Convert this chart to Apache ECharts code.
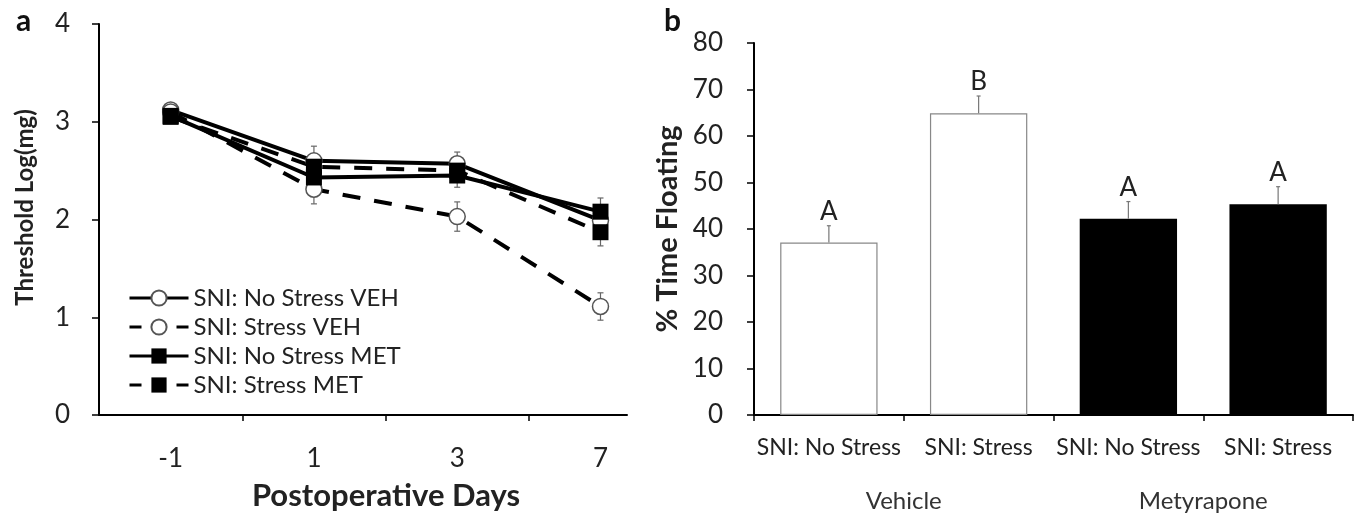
<!DOCTYPE html>
<html>
<head>
<meta charset="utf-8">
<script src="https://cdn.jsdelivr.net/npm/echarts@6/dist/echarts.min.js"></script>
<style>
  html, body { margin: 0; padding: 0; background: #fff; }
  #chart { width: 1360px; height: 516px; }
</style>
</head>
<body>
<div id="chart"></div>
<script>
// panel a: threshold log(mg) by postoperative day
const days = ['-1', '1', '3', '7']
const vehNoStress = [3.12, 2.60, 2.57, 1.99]
const vehStress = [3.10, 2.31, 2.03, 1.11]
const metNoStress = [3.06, 2.43, 2.45, 2.08]
const metStress = [3.05, 2.54, 2.50, 1.87]
const vehNoStressSem = [0.05, 0.15, 0.12, 0.12]
const vehStressSem = [0.05, 0.15, 0.15, 0.14]
const metNoStressSem = [0.05, 0.12, 0.12, 0.14]
const metStressSem = [0.05, 0.12, 0.12, 0.14]

// panel b: % time floating
const groups = ['SNI: No Stress', 'SNI: Stress', 'SNI: No Stress', 'SNI: Stress']
const treatments = ['Vehicle', 'Metyrapone']
const timeFloating = [37.1, 64.9, 42.2, 45.3]
const timeFloatingSem = [3.6, 3.7, 3.7, 3.8]
const letters = ['A', 'B', 'A', 'A']

const FONT = 'Lato, "Open Sans", sans-serif'
const TXT = '#222'

const chart = echarts.init(document.getElementById('chart'))

// 误差线 (上下)
function errRenderA (params, api) {
  const x = api.value(0)
  const y = api.value(1)
  const e = api.value(2)
  const hi = api.coord([x, y + e])
  const lo = api.coord([x, y - e])
  const st = { stroke: '#666', lineWidth: 1.2 }
  return {
    type: 'group',
    children: [
      { type: 'line', shape: { x1: hi[0], y1: hi[1], x2: lo[0], y2: lo[1] }, style: st },
      { type: 'line', shape: { x1: hi[0] - 3, y1: hi[1], x2: hi[0] + 3, y2: hi[1] }, style: st },
      { type: 'line', shape: { x1: lo[0] - 3, y1: lo[1], x2: lo[0] + 3, y2: lo[1] }, style: st }
    ]
  }
}

// 柱状图误差线 (只向上) + 字母
function errRenderB (params, api) {
  const x = api.value(0)
  const y = api.value(1)
  const e = api.value(2)
  const top = api.coord([x, y])
  const hi = api.coord([x, y + e])
  const st = { stroke: '#777', lineWidth: 1.2 }
  return {
    type: 'group',
    children: [
      { type: 'line', shape: { x1: top[0], y1: top[1], x2: hi[0], y2: hi[1] }, style: st },
      { type: 'line', shape: { x1: hi[0] - 2, y1: hi[1], x2: hi[0] + 2, y2: hi[1] }, style: st },
      {
        type: 'text',
        style: {
          text: letters[params.dataIndex],
          x: hi[0],
          y: hi[1] - 1,
          align: 'center',
          verticalAlign: 'bottom',
          fontSize: 26,
          fontFamily: FONT,
          fill: TXT
        }
      }
    ]
  }
}

function lineSeries (name, values, dashed, symbol) {
  return {
    name: name,
    type: 'line',
    xAxisIndex: 0,
    yAxisIndex: 0,
    data: values.map((v, i) => [i, v]),
    symbol: symbol,
    symbolSize: 16,
    showAllSymbol: true,
    lineStyle: { color: '#000', width: 4, type: dashed ? [18, 14] : 'solid' },
    itemStyle: symbol === 'circle'
      ? { color: '#fff', borderColor: '#555', borderWidth: 1.5 }
      : { color: '#000', borderColor: '#000', borderWidth: 0 },
    z: 3
  }
}

function errSeriesA (values, sems) {
  return {
    type: 'custom',
    xAxisIndex: 0,
    yAxisIndex: 0,
    renderItem: errRenderA,
    encode: { x: 0, y: 1 },
    data: values.map((v, i) => [i, v, sems[i]]),
    z: 2,
    silent: true
  }
}

const axisLineStyle = { color: '#000', width: 2 }
const legendDash = { type: [12, 35], width: 3, color: '#000' }
const legendSolid = { type: 'solid', width: 3, color: '#000' }

const option = {
  animation: false,
  backgroundColor: '#fff',
  textStyle: { fontFamily: FONT, color: TXT },
  graphic: [
    { type: 'text', left: 16, top: 6, style: { text: 'a', fontSize: 30, fontWeight: 'bold', fontFamily: FONT, fill: '#111' } },
    { type: 'text', left: 664, top: 6, style: { text: 'b', fontSize: 30, fontWeight: 'bold', fontFamily: FONT, fill: '#111' } }
  ],
  legend: {
    orient: 'vertical',
    left: 123,
    top: 281,
    itemWidth: 59,
    itemHeight: 19,
    itemGap: 5,
    textStyle: { fontSize: 24, lineHeight: 24, fontFamily: FONT, color: TXT },
    data: [
      { name: 'SNI: No Stress VEH', lineStyle: legendSolid },
      { name: 'SNI: Stress VEH', lineStyle: legendDash },
      { name: 'SNI: No Stress MET', lineStyle: legendSolid },
      { name: 'SNI: Stress MET', lineStyle: legendDash }
    ]
  },
  grid: [
    { left: 99, top: 24, width: 528, height: 392 },
    { left: 754, top: 43, width: 599, height: 372 }
  ],
  xAxis: [
    {
      gridIndex: 0,
      type: 'value',
      min: -0.5,
      max: 3.185,
      splitLine: { show: false },
      axisLine: { show: true, onZero: false, lineStyle: axisLineStyle },
      axisTick: { show: true, length: 6, lineStyle: { color: '#000', width: 1.5 }, customValues: [0.5, 1.5, 2.5] },
      axisLabel: {
        fontSize: 26,
        fontFamily: FONT,
        color: TXT,
        margin: 31,
        customValues: [0, 1, 2, 3],
        formatter: v => days[Math.round(v)]
      },
      name: 'Postoperative Days',
      nameLocation: 'middle',
      nameGap: 65,
      nameTextStyle: { fontSize: 31, fontWeight: 'bold', fontFamily: FONT, color: TXT, padding: [0, 0, 0, 46] }
    },
    {
      gridIndex: 1,
      type: 'category',
      data: groups,
      axisLine: { show: true, lineStyle: axisLineStyle },
      axisTick: { show: true, length: 6, lineStyle: { color: '#000', width: 1.5 } },
      axisLabel: { fontSize: 23, fontFamily: FONT, color: TXT, margin: 21, interval: 0 }
    },
    {
      gridIndex: 1,
      type: 'category',
      data: treatments,
      position: 'bottom',
      axisLine: { show: false },
      axisTick: { show: false },
      axisLabel: { fontSize: 24, fontFamily: FONT, color: '#333', margin: 74 }
    }
  ],
  yAxis: [
    {
      gridIndex: 0,
      type: 'value',
      min: 0,
      max: 4,
      interval: 1,
      splitLine: { show: false },
      axisLine: { show: true, onZero: false, lineStyle: axisLineStyle },
      axisTick: { show: true, length: 7, lineStyle: { color: '#000', width: 1.5 } },
      axisLabel: { fontSize: 26, fontFamily: FONT, color: TXT, margin: 29 },
      name: 'Threshold Log(mg)',
      nameLocation: 'middle',
      nameGap: 62,
      nameTextStyle: { fontSize: 24, fontWeight: 'bold', fontFamily: FONT, color: TXT, padding: [0, 0, 0, 24] }
    },
    {
      gridIndex: 1,
      type: 'value',
      min: 0,
      max: 80,
      interval: 10,
      splitLine: { show: false },
      axisLine: { show: true, lineStyle: axisLineStyle },
      axisTick: { show: true, length: 7, lineStyle: { color: '#000', width: 1.5 } },
      axisLabel: { fontSize: 26, fontFamily: FONT, color: TXT, margin: 31 },
      name: '% Time Floating',
      nameLocation: 'middle',
      nameGap: 72,
      nameTextStyle: { fontSize: 29, fontWeight: 'bold', fontFamily: FONT, color: TXT }
    }
  ],
  series: [
    errSeriesA(vehNoStress, vehNoStressSem),
    errSeriesA(vehStress, vehStressSem),
    errSeriesA(metNoStress, metNoStressSem),
    errSeriesA(metStress, metStressSem),
    lineSeries('SNI: No Stress VEH', vehNoStress, false, 'circle'),
    lineSeries('SNI: Stress VEH', vehStress, true, 'circle'),
    lineSeries('SNI: No Stress MET', metNoStress, false, 'rect'),
    lineSeries('SNI: Stress MET', metStress, true, 'rect'),
    {
      type: 'bar',
      xAxisIndex: 1,
      yAxisIndex: 1,
      barWidth: '65%',
      data: timeFloating.map((v, i) => ({
        value: v,
        itemStyle: i < 2
          ? { color: '#fff', borderColor: '#888', borderWidth: 1.2 }
          : { color: '#000', borderColor: '#000', borderWidth: 0 }
      }))
    },
    {
      type: 'custom',
      xAxisIndex: 1,
      yAxisIndex: 1,
      renderItem: errRenderB,
      encode: { x: 0, y: 1 },
      data: timeFloating.map((v, i) => [i, v, timeFloatingSem[i]]),
      z: 3,
      silent: true
    }
  ]
}

chart.setOption(option)
window.onresize = function () {
  chart.resize()
}
</script>
</body>
</html>
